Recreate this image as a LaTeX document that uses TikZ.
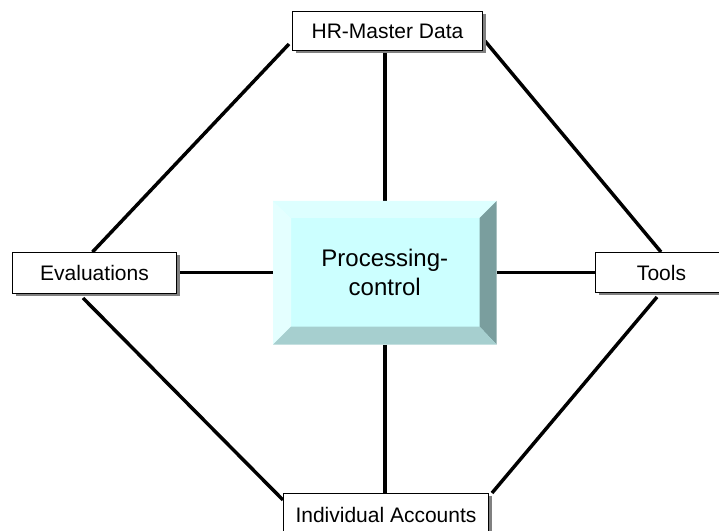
\documentclass[tikz,border=0pt]{standalone}
\usepackage{fontspec}
\setmainfont{Liberation Sans}
\usetikzlibrary{calc,shadows,backgrounds}

\definecolor{faceC}{HTML}{CCFFFF}
\definecolor{bevTop}{HTML}{DDFFFF}
\definecolor{bevLeft}{HTML}{E4FFFF}
\definecolor{bevRight}{HTML}{7A9E9E}
\definecolor{bevBottom}{HTML}{A6CFCF}

\begin{document}
\begin{tikzpicture}[x=0.75pt,y=-0.75pt,
  link/.style={line width=2.6pt, black},
  databox/.style={draw=black, line width=0.75pt, fill=white, inner sep=0pt,
    anchor=north west, align=center,
    font=\fontsize{15.75}{19}\selectfont,
    drop shadow={shadow xshift=2.25pt, shadow yshift=-2.25pt, fill=black!50, opacity=1}},
  corebox/.style={fill=faceC, inner sep=0pt, anchor=north west, align=center,
    minimum width=167.25pt, minimum height=107.25pt,
    font=\fontsize{18}{21.6}\selectfont}
]
\useasboundingbox (0,0) rectangle (719,531);

% boxes
\node[databox, minimum width=142.5pt, minimum height=29.25pt] (hr) at (292,11) {HR-Master Data};
\node[databox, minimum width=123pt, minimum height=30.75pt] (eval) at (12,252) {Evaluations};
\node[databox, minimum width=99pt, minimum height=30pt] (tools) at (595,252) {Tools};
\node[databox, minimum width=153.75pt, minimum height=31.5pt] (indiv) at (283,493) {Individual Accounts};

% central bevelled block
\node[corebox] (ctrl) at (273,201) {Processing-\\control};
\fill[bevTop] (ctrl.north west) -- (ctrl.north east) -- ($(ctrl.north east)+(-17,17)$) -- ($(ctrl.north west)+(18,17)$) -- cycle;
\fill[bevLeft] (ctrl.north west) -- ($(ctrl.north west)+(18,17)$) -- ($(ctrl.south west)+(18,-18)$) -- (ctrl.south west) -- cycle;
\fill[bevRight] (ctrl.north east) -- (ctrl.south east) -- ($(ctrl.south east)+(-17,-18)$) -- ($(ctrl.north east)+(-17,17)$) -- cycle;
\fill[bevBottom] (ctrl.south west) -- ($(ctrl.south west)+(18,-18)$) -- ($(ctrl.south east)+(-17,-18)$) -- (ctrl.south east) -- cycle;

% connectors
\begin{pgfonlayer}{background}
  \draw[link] (ctrl.north) -- (ctrl.north |- hr.south);
  \draw[link] (ctrl.south) -- (ctrl.south |- indiv.north);
  \draw[link] (ctrl.west) -- (ctrl.west -| eval.east);
  \draw[link] (ctrl.east) -- (ctrl.east -| tools.west);
  \draw[link] ($(hr.south west)+(-3,-7)$) -- ($(eval.north)+(-2,0)$);
  \draw[link] ($(hr.south east)+(2,-10)$) -- ($(tools.north west)+(66,0)$);
  \draw[link] ($(eval.south west)+(71,4)$) -- ($(indiv.north west)+(0,7)$);
  \draw[link] ($(indiv.north east)+(3,0)$) -- ($(tools.south west)+(62,4)$);
\end{pgfonlayer}
\end{tikzpicture}
\end{document}
